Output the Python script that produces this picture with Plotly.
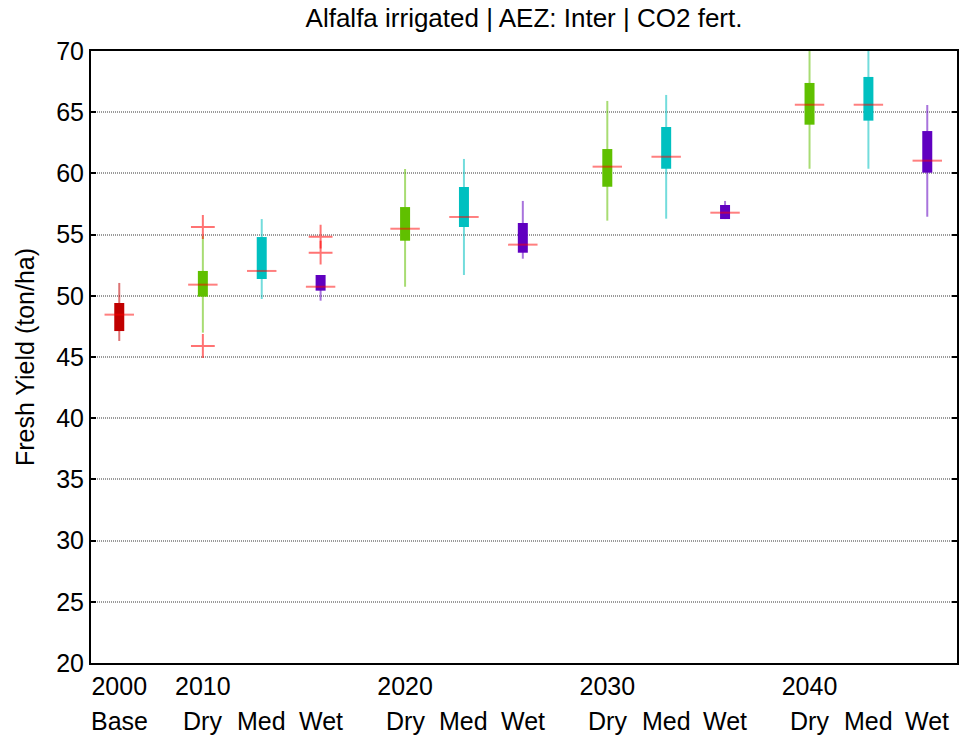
import plotly.graph_objects as go

# Scenario labels and decades
scenarios = ["Base", "Dry", "Med", "Wet", "Dry", "Med", "Wet",
             "Dry", "Med", "Wet", "Dry", "Med", "Wet"]
years = ["2000", "2010", "2020", "2030", "2040"]

# Box statistics (ton/ha) for each scenario
lower_whisker = [46.31, 46.99, 49.74, 49.60, 50.74, 51.70, 53.03,
                 56.14, 56.30, 56.27, 60.38, 60.38, 56.46]
q1 = [47.12, 49.93, 51.37, 50.42, 54.50, 55.62, 53.52,
      58.91, 60.38, 56.27, 63.98, 64.31, 60.06]
median = [48.46, 50.91, 52.03, 50.74, 55.48, 56.44, 54.18,
          60.55, 61.36, 56.79, 65.61, 65.61, 61.04]
q3 = [49.41, 52.03, 54.80, 51.70, 57.25, 58.89, 55.95,
      61.99, 63.79, 57.42, 67.39, 67.88, 63.46]
upper_whisker = [51.05, 54.89, 56.27, 51.70, 60.36, 61.18, 57.75,
                 65.92, 66.41, 57.75, 71.0, 71.0, 65.59]
outliers = [[], [55.62, 45.90], [], [54.83, 53.52], [], [], [],
            [], [], [], [], [], []]

# Colours per scenario type
box_colors = {"Base": (192, 0, 0), "Dry": (96, 192, 0),
              "Med": (0, 192, 192), "Wet": (96, 0, 192)}

# Horizontal layout: base first, then four groups of three scenarios
group_step = 3.435
positions = [-1.42]
for g in range(4):
    for k in range(3):
        positions.append(g * group_step + k)
year_positions = [positions[0], positions[1], positions[4], positions[7], positions[10]]

FONT = "Liberation Sans, Arial, sans-serif"


def rgba(c, a):
    return f"rgba({c[0]},{c[1]},{c[2]},{a})"


fig = go.Figure()

# Whiskers
for name, col in box_colors.items():
    xs, ys = [], []
    for i, s in enumerate(scenarios):
        if s == name:
            xs += [positions[i], positions[i], None]
            ys += [lower_whisker[i], upper_whisker[i], None]
    fig.add_trace(go.Scatter(x=xs, y=ys, mode="lines", hoverinfo="skip",
                             line=dict(color=rgba(col, 0.55), width=2)))

# Interquartile boxes drawn as thick bars
for name, col in box_colors.items():
    xs, ys = [], []
    for i, s in enumerate(scenarios):
        if s == name:
            xs += [positions[i], positions[i], None]
            ys += [q1[i], q3[i], None]
    fig.add_trace(go.Scatter(x=xs, y=ys, mode="lines", hoverinfo="skip",
                             line=dict(color=rgba(col, 1), width=10)))

# Medians
mx, my = [], []
for i in range(len(scenarios)):
    mx += [positions[i] - 0.25, positions[i] + 0.25, None]
    my += [median[i], median[i], None]
fig.add_trace(go.Scatter(x=mx, y=my, mode="lines", hoverinfo="skip",
                         line=dict(color="rgba(255,0,0,0.5)", width=2)))

# Outliers
ox, oy = [], []
for i, vals in enumerate(outliers):
    for v in vals:
        ox.append(positions[i])
        oy.append(v)
fig.add_trace(go.Scatter(x=ox, y=oy, mode="markers", hoverinfo="skip",
                         marker=dict(symbol="cross-thin", size=17,
                                     line=dict(color="rgba(255,0,0,0.55)", width=2))))

# Second row of category labels
for i, s in enumerate(scenarios):
    fig.add_annotation(x=positions[i], y=-0.0948, xref="x", yref="paper",
                       text=s, showarrow=False, yanchor="middle",
                       font=dict(size=25, color="black", family=FONT))

fig.update_layout(
    width=966, height=737,
    margin=dict(l=91, r=7, t=51, b=74),
    paper_bgcolor="white", plot_bgcolor="white",
    showlegend=False,
    font=dict(family=FONT, size=25, color="black"),
    title=dict(text="Alfalfa irrigated | AEZ: Inter | CO2 fert.",
               x=0.5, xref="paper", y=1 - 18 / 737, yref="container",
               yanchor="middle", font=dict(size=26)),
)

fig.update_yaxes(range=[20, 70], dtick=5, tick0=20,
                 showgrid=True, gridcolor="#9a9a9a", griddash="1px,1px", gridwidth=1.5,
                 showline=True, linecolor="black", linewidth=2, mirror="ticks",
                 ticks="inside", ticklen=5, tickcolor="black", tickwidth=2,
                 zeroline=False, tickfont=dict(size=25),
                 title=dict(text="Fresh Yield (ton/ha)", font=dict(size=25), standoff=14))

fig.update_xaxes(range=[-1.9, 12.81], tickvals=year_positions, ticktext=years,
                 showgrid=False, zeroline=False, tickfont=dict(size=25),
                 showline=True, linecolor="black", linewidth=2, mirror=True,
                 ticks="")

fig.write_html("out.html")
